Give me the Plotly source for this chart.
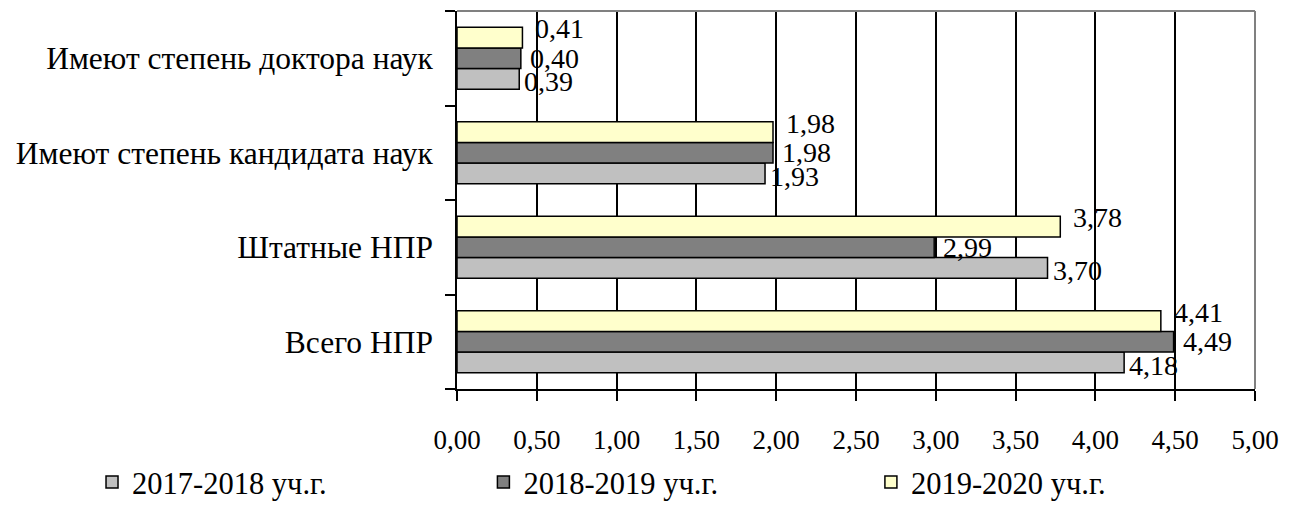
import plotly.graph_objects as go

# Categories listed bottom-to-top (categorical y axis starts at the bottom)
categories = [
    "Всего НПР",
    "Штатные НПР",
    "Имеют степень кандидата наук",
    "Имеют степень доктора наук",
]

series_names = ["2017-2018 уч.г.", "2018-2019 уч.г.", "2019-2020 уч.г."]
values_2017_2018 = [4.18, 3.70, 1.93, 0.39]
values_2018_2019 = [4.49, 2.99, 1.98, 0.40]
values_2019_2020 = [4.41, 3.78, 1.98, 0.41]

x_tick_values = [0, 0.5, 1, 1.5, 2, 2.5, 3, 3.5, 4, 4.5, 5]

series_values = [values_2017_2018, values_2018_2019, values_2019_2020]
series_colors = ["#C0C0C0", "#808080", "#FFFFCC"]
# label nudges (px) for each series: (xshift, yshift)
label_shift = [(3, -2), (7, 0), (11, 8)]
# one legend box per series, laid out side by side under the chart
legend_ids = ["legend", "legend2", "legend3"]
legend_x = [0.071, 0.373, 0.672]

FONT = "Times New Roman, Liberation Serif, DejaVu Serif, serif"

fig = go.Figure()
for name, vals, color, lid in zip(series_names, series_values, series_colors, legend_ids):
    fig.add_trace(go.Bar(
        name=name,
        y=categories,
        x=vals,
        orientation="h",
        marker=dict(color=color, line=dict(color="black", width=1.5)),
        hoverinfo="skip",
        legend=lid,
    ))

# value labels at the end of each bar
n = len(series_names)
for i, (vals, (dx, dy)) in enumerate(zip(series_values, label_shift)):
    for cat, v in zip(categories, vals):
        fig.add_annotation(
            x=v, y=cat,
            text=f"{v:.2f}".replace(".", ","),
            showarrow=False,
            xanchor="left", yanchor="middle",
            xshift=dx, yshift=dy + (i - (n - 1) / 2) * 21.5,
            font=dict(family=FONT, size=28, color="black"),
        )

legend_style = dict(
    orientation="h",
    xref="container", yref="container",
    y=0.103, xanchor="left", yanchor="top",
    font=dict(family=FONT, size=30.5, color="black"),
    itemwidth=30,
    bgcolor="rgba(0,0,0,0)",
)

fig.update_layout(
    width=1296, height=508,
    margin=dict(l=457, r=41, t=11, b=119, autoexpand=False),
    paper_bgcolor="white", plot_bgcolor="white",
    barmode="group", bargap=0.344, bargroupgap=0,
    separators=", ",
    font=dict(family=FONT, size=27, color="black"),
    showlegend=True,
    legend=dict(x=legend_x[0], **legend_style),
    legend2=dict(x=legend_x[1], **legend_style),
    legend3=dict(x=legend_x[2], **legend_style),
    xaxis=dict(
        range=[0, 5],
        tickvals=x_tick_values,
        tickformat=".2f",
        showgrid=True, gridcolor="black", gridwidth=1.5,
        zeroline=False,
        showline=True, linecolor="black", linewidth=1.5,
        ticks="outside", ticklen=10, tickwidth=1.5, tickcolor="black",
        ticklabelstandoff=16,
        tickfont=dict(family=FONT, size=27, color="black"),
        automargin=False,
        fixedrange=True,
    ),
    yaxis=dict(
        type="category",
        categoryorder="array", categoryarray=categories,
        showgrid=False, zeroline=False,
        showline=True, linecolor="black", linewidth=1.5,
        ticks="outside", tickson="boundaries", ticklen=10, tickwidth=1.5, tickcolor="black",
        ticklabelstandoff=16,
        tickfont=dict(family=FONT, size=31.5, color="black"),
        automargin=False,
        fixedrange=True,
    ),
)

# grey frame on the top and right sides of the plot area
fig.add_shape(type="line", xref="paper", yref="paper", x0=0, x1=1, y0=1, y1=1,
              line=dict(color="#808080", width=2), layer="above")
fig.add_shape(type="line", xref="paper", yref="paper", x0=1, x1=1, y0=0, y1=1,
              line=dict(color="#808080", width=2), layer="above")

fig.write_html("out.html")
